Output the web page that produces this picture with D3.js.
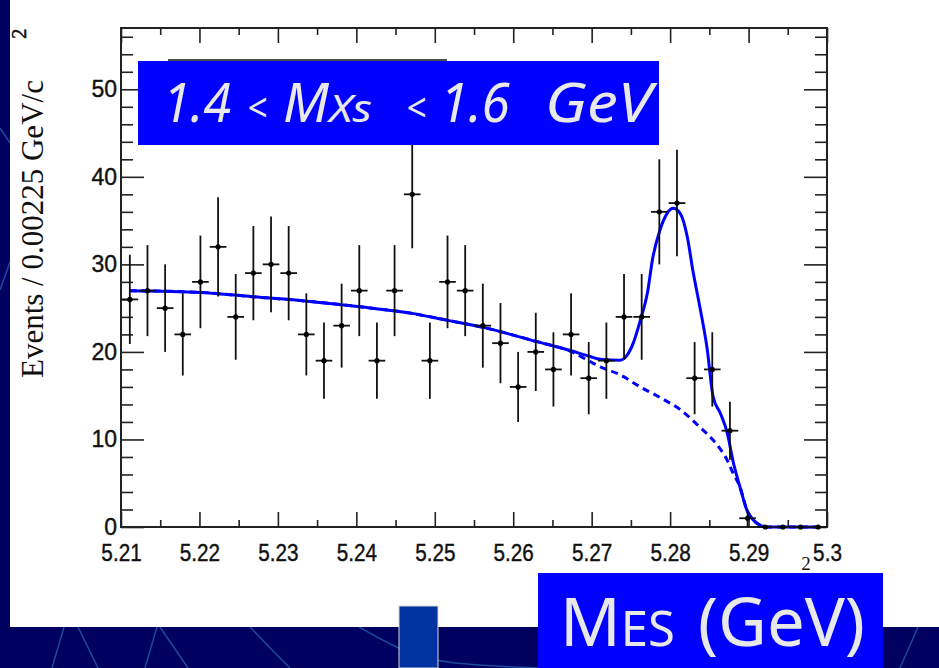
<!DOCTYPE html>
<html>
<head>
<meta charset="utf-8">
<script src="https://cdn.jsdelivr.net/npm/d3@7"></script>
<style>
  html, body { margin: 0; padding: 0; background: #000060; overflow: hidden; }
</style>
</head>
<body>
<svg id="chart" width="939" height="668"></svg>
<script>
// histogram: 40 bins of 0.00225 GeV starting at 5.21
const binStart = 5.21;
const binWidth = 0.00225;
const counts = [26, 27, 25, 22, 28, 32, 24, 29, 30, 29, 22, 19, 23, 27, 19, 27, 38, 19, 28, 27,
                23, 21, 16, 20, 18, 22, 17, 19, 24, 24, 36, 37, 17, 18, 11, 1, 0, 0, 0, 0];

// total fit (solid)
const fitX = [5.2111, 5.2202, 5.2268, 5.2337, 5.2405, 5.2471, 5.2517, 5.2562, 5.2629, 5.2675,
              5.2697, 5.2711, 5.2736, 5.2745, 5.2753, 5.2762, 5.2771, 5.2778, 5.2787, 5.2796,
              5.2804, 5.2813, 5.2822, 5.2829, 5.2838, 5.2847, 5.2855, 5.2864, 5.2873, 5.2880,
              5.2889, 5.2898, 5.2906, 5.2915, 5.2924, 5.2989];
const fitY = [27.0, 26.8, 26.3, 25.8, 25.15, 24.4, 23.6, 22.8, 21.2, 20.1,
              19.5, 19.15, 19.05, 19.6, 21.0, 23.6, 26.7, 30.8, 33.9, 35.8,
              36.4, 35.8, 33.1, 29.3, 25.1, 20.5, 14.8, 13.0, 10.7, 7.6,
              4.6, 1.9, 0.8, 0.2, 0, 0];

// background only (dashed)
const bgX = [5.2111, 5.2202, 5.2268, 5.2337, 5.2405, 5.2471, 5.2517, 5.2562, 5.2629, 5.2675,
             5.2702, 5.2711, 5.2736, 5.2762, 5.2787, 5.2813, 5.2838, 5.2855, 5.2864, 5.2873,
             5.2880, 5.2889, 5.2898, 5.2906, 5.2915, 5.2924, 5.2989];
const bgY = [27.0, 26.8, 26.3, 25.8, 25.15, 24.4, 23.6, 22.8, 21.2, 20.0,
             18.7, 18.3, 17.4, 16.0, 14.8, 13.4, 11.4, 9.9, 8.9, 7.6,
             6.2, 4.6, 1.9, 0.8, 0.2, 0, 0];

const xMajor = [5.21, 5.22, 5.23, 5.24, 5.25, 5.26, 5.27, 5.28, 5.29, 5.30];
const xLabels = ["5.21", "5.22", "5.23", "5.24", "5.25", "5.26", "5.27", "5.28", "5.29", "5.3"];
const xMinor = [5.215, 5.225, 5.235, 5.245, 5.255, 5.265, 5.275, 5.285, 5.295];
const yMajor = [0, 10, 20, 30, 40, 50];
const yMinor = [2, 4, 6, 8, 12, 14, 16, 18, 22, 24, 26, 28, 32, 34, 36, 38, 42, 44, 46, 48, 52, 54, 56];

const svg = d3.select("#chart");

// slide background + decoration
svg.append("rect").attr("width", 939).attr("height", 668).attr("fill", "#000060");
const deco = [
  [[0, 128], [10, 143]], [[10, 262], [0, 290]],
  [[52, 668], [64, 627]], [[78, 627], [98, 668]], [[145, 668], [157, 627]], [[160, 627], [188, 668]],
  [[250, 627], [272, 650], [290, 668]], [[359, 627], [400, 650], [440, 664], [540, 668]],
  [[918, 627], [900, 668]]
];
svg.append("g").selectAll("path").data(deco).join("path")
  .attr("d", d3.line().curve(d3.curveBasis))
  .attr("fill", "none").attr("stroke", "#1a4aa0").attr("stroke-width", 1.5);

svg.append("rect").attr("x", 10).attr("y", 0).attr("width", 929).attr("height", 627).attr("fill", "#fff");

svg.append("rect").attr("x", 399).attr("y", 606).attr("width", 39).attr("height", 62)
  .attr("fill", "#0033a0").attr("stroke", "#d8d8d8").attr("stroke-width", 1);

// scales
const x = d3.scaleLinear().domain([5.21, 5.30]).range([121, 827]);
const y = d3.scaleLinear().domain([0, 57]).range([527, 28]);

const tickStroke = "#222";
const labelFont = "Liberation Sans, Arial, sans-serif";
function styleAxis(g) {
  g.select(".domain").remove();
  g.selectAll("line").attr("stroke", tickStroke).attr("stroke-width", 1.6);
}

// bottom
svg.append("g").attr("transform", "translate(0,527)")
  .call(d3.axisBottom(x).tickValues(xMajor).tickSize(-15).tickPadding(18)
    .tickFormat((d, i) => xLabels[i]))
  .call(styleAxis)
  .selectAll("text").attr("font-family", labelFont)
  .attr("font-size", 23).attr("fill", "#111").attr("stroke", "#111").attr("stroke-width", 0.4)
  .attr("transform", "scale(0.9,1)");
svg.append("g").attr("transform", "translate(0,527)")
  .call(d3.axisBottom(x).tickValues(xMinor).tickSize(-7).tickFormat(""))
  .call(styleAxis);
// top
svg.append("g").attr("transform", "translate(0,28)")
  .call(d3.axisTop(x).tickValues(xMajor).tickSize(-15).tickFormat(""))
  .call(styleAxis);
svg.append("g").attr("transform", "translate(0,28)")
  .call(d3.axisTop(x).tickValues(xMinor).tickSize(-7).tickFormat(""))
  .call(styleAxis);
// left
svg.append("g").attr("transform", "translate(121,0)")
  .call(d3.axisLeft(y).tickValues(yMajor).tickSize(-23).tickPadding(4))
  .call(styleAxis)
  .selectAll("text").attr("font-family", labelFont)
  .attr("font-size", 23).attr("fill", "#111").attr("stroke", "#111").attr("stroke-width", 0.4)
  .attr("dy", "0.32em");
svg.append("g").attr("transform", "translate(121,0)")
  .call(d3.axisLeft(y).tickValues(yMinor).tickSize(-12).tickFormat(""))
  .call(styleAxis);
// right
svg.append("g").attr("transform", "translate(827,0)")
  .call(d3.axisRight(y).tickValues(yMajor).tickSize(-23).tickFormat(""))
  .call(styleAxis);
svg.append("g").attr("transform", "translate(827,0)")
  .call(d3.axisRight(y).tickValues(yMinor).tickSize(-12).tickFormat(""))
  .call(styleAxis);

// frame
svg.append("rect").attr("x", 121).attr("y", 28).attr("width", 706).attr("height", 499)
  .attr("fill", "none").attr("stroke", tickStroke).attr("stroke-width", 2);

// y title
const serif = "Liberation Serif, Times New Roman, serif";
svg.append("text")
  .attr("transform", "translate(43,378) rotate(-90)")
  .attr("font-family", serif).attr("font-size", 31).attr("fill", "#111")
  .text("Events / 0.00225 GeV/c");
svg.append("text")
  .attr("transform", "translate(26,39) rotate(-90)")
  .attr("font-family", serif).attr("font-size", 21).attr("fill", "#111")
  .attr("stroke", "#111").attr("stroke-width", 0.5)
  .text("2");
// x title remnant (superscript peeking above the box)
svg.append("text").attr("x", 806).attr("y", 570).attr("text-anchor", "middle")
  .attr("font-family", serif).attr("font-size", 19).attr("fill", "#111").text("2");

// fit curves
const bgLine = d3.line().x((d, i) => x(bgX[i])).y(d => y(d)).curve(d3.curveMonotoneX);
const fitLine = d3.line().x((d, i) => x(fitX[i])).y(d => y(d)).curve(d3.curveMonotoneX);
svg.append("path").datum(bgY).attr("d", bgLine)
  .attr("fill", "none").attr("stroke", "#0000ff").attr("stroke-width", 3)
  .attr("stroke-dasharray", "7,5");
svg.append("path").datum(fitY).attr("d", fitLine)
  .attr("fill", "none").attr("stroke", "#0000ff").attr("stroke-width", 3);

// data points with poisson errors
const pts = counts.map((c, i) => ({
  lo: binStart + i * binWidth,
  hi: binStart + (i + 1) * binWidth,
  mid: binStart + (i + 0.5) * binWidth,
  c: c
}));
const pg = svg.append("g").attr("stroke", "#111").attr("stroke-width", 1.8);
pg.selectAll("line.h").data(pts).join("line").attr("class", "h")
  .attr("x1", d => x(d.lo) + 0.5).attr("x2", d => x(d.hi) - 0.5)
  .attr("y1", d => y(d.c)).attr("y2", d => y(d.c));
pg.selectAll("line.v").data(pts.filter(d => d.c > 0)).join("line").attr("class", "v")
  .attr("x1", d => x(d.mid)).attr("x2", d => x(d.mid))
  .attr("y1", d => y(d.c - Math.sqrt(d.c))).attr("y2", d => y(d.c + Math.sqrt(d.c)));
svg.append("g").selectAll("circle").data(pts).join("circle")
  .attr("cx", d => x(d.mid)).attr("cy", d => y(d.c)).attr("r", 2.6).attr("fill", "#000");

// title box
svg.append("line").attr("x1", 168).attr("x2", 447).attr("y1", 60).attr("y2", 60)
  .attr("stroke", "#111").attr("stroke-width", 1.6);
svg.append("rect").attr("x", 138).attr("y", 61).attr("width", 521).attr("height", 84).attr("fill", "#0000ff");
const tFont = "Comic Sans MS, Noto Sans, DejaVu Sans, sans-serif";
// [text, x, font size, width]
const titleParts = [["1.4", 163, 55, 68], ["<", 247, 40, 20], ["M", 283, 55, 46], ["Xs", 329, 38, 43],
                    ["<", 406, 40, 20], ["1.6", 440, 55, 70], ["GeV", 545, 55, 107]];
svg.append("g").selectAll("text").data(titleParts).join("text")
  .attr("x", d => d[1]).attr("y", 122)
  .attr("font-size", d => d[2]).attr("textLength", d => d[3]).attr("lengthAdjust", "spacingAndGlyphs")
  .attr("font-family", tFont).attr("font-style", "italic").attr("fill", "#e8e8e8")
  .text(d => d[0]);

// x label box
svg.append("rect").attr("x", 538).attr("y", 573).attr("width", 345).attr("height", 95).attr("fill", "#0000ff");
const xt = svg.append("text").attr("y", 646).attr("fill", "#e8e8e8").attr("font-family", tFont);
xt.append("tspan").attr("x", 560).attr("font-size", 67).text("M");
xt.append("tspan").attr("font-size", 49).text("ES");
xt.append("tspan").attr("x", 698).attr("font-size", 67).text("(GeV)");
</script>
</body>
</html>
